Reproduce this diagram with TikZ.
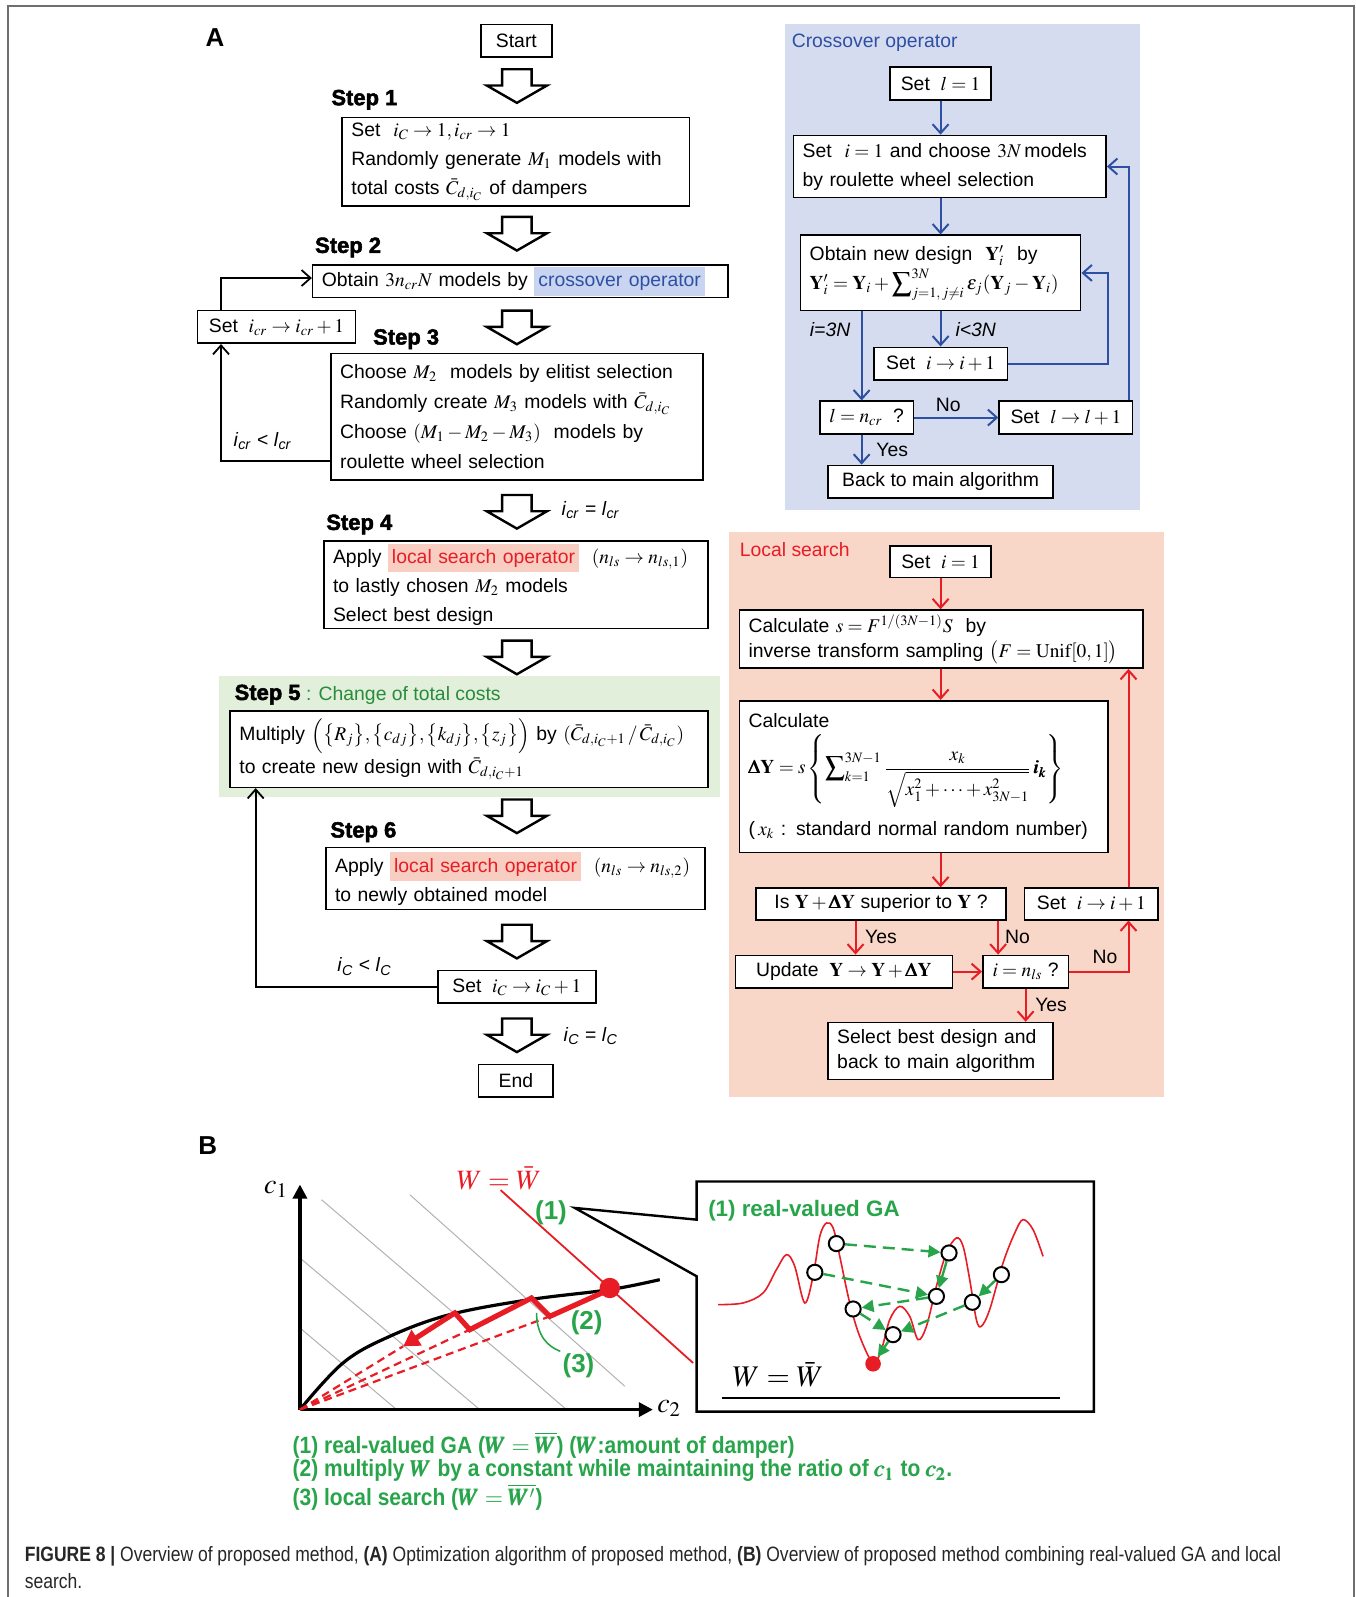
\documentclass[tikz,border=0pt]{standalone}
\usepackage{amsmath}
\usepackage{mathptmx}
\usepackage[no-math]{fontspec}
\setmainfont{Liberation Sans}
\newfontfamily\heavyfont[FakeBold=2.2]{Liberation Sans Bold}
\newfontfamily\legfont[FakeStretch=0.89]{Liberation Sans Bold}
\newfontfamily\capfont[FakeStretch=0.843,BoldFont={Liberation Sans Bold}]{Liberation Sans}
\usetikzlibrary{arrows.meta,calc}

\definecolor{cxbg}{RGB}{214,220,240}
\definecolor{cxblue}{RGB}{46,80,162}
\definecolor{cxhl}{RGB}{200,212,240}
\definecolor{lsbg}{RGB}{248,214,200}
\definecolor{lsred}{RGB}{232,28,36}
\definecolor{lshl}{RGB}{248,206,194}
\definecolor{s5bg}{RGB}{226,239,218}
\definecolor{s5green}{RGB}{40,140,60}
\definecolor{lgreen}{RGB}{40,165,75}
\definecolor{framegray}{RGB}{110,110,110}

\newcommand\bodyfont{\fontsize{9.7}{14.5}\selectfont}
\newcommand\hlB[1]{{\setlength{\fboxsep}{0pt}\colorbox{cxhl}{\strut\hspace{2pt}\color{cxblue}#1\hspace{2pt}}}}
\newcommand\hlR[1]{{\setlength{\fboxsep}{0pt}\colorbox{lshl}{\strut\hspace{2pt}\color{lsred}#1\hspace{2pt}}}}
\newcommand\itsub[2]{\textit{#1}\textsubscript{\textit{#2}}}
\newcommand\bDY{\pmb{\Delta}\mathbf{Y}}

\tikzset{
  box/.style={draw, line width=0.8pt, fill=white, inner xsep=4.6pt, inner ysep=0pt, font=\bodyfont, align=left},
  bx/.code 2 args={\pgfmathsetlengthmacro\bxw{#1*0.51pt-9.2pt}\pgfmathsetlengthmacro\bxh{#2*0.51pt}%
    \edef\bxtmp{\noexpand\pgfkeysalso{text width=\bxw,minimum height=\bxh}}\bxtmp},
  bxc/.code 2 args={\pgfmathsetlengthmacro\bxw{#1*0.51pt}\pgfmathsetlengthmacro\bxh{#2*0.51pt}%
    \edef\bxtmp{\noexpand\pgfkeysalso{minimum width=\bxw,minimum height=\bxh,inner xsep=0pt}}\bxtmp},
  txt/.style={inner sep=0pt, font=\bodyfont},
  steplbl/.style={inner sep=0pt, anchor=west, font=\heavyfont\fontsize{11}{12}\selectfont},
  arrK/.style={line width=0.9pt, -{Straight Barb[length=4.5pt,width=8pt]}},
  arrB/.style={cxblue, line width=1pt, -{Straight Barb[length=4.5pt,width=8pt]}},
  arrR/.style={lsred, line width=1pt, -{Straight Barb[length=4.5pt,width=8pt]}},
  harrow/.pic={\draw[line width=1.2pt, fill=white, line join=miter] (-14.5,0) -- (14.5,0) -- (14.5,16) -- (29.5,16) -- (0,33) -- (-29.5,16) -- (-14.5,16) -- cycle;},
  isoline/.style={gray!60, line width=0.5pt},
  gac/.style={circle, draw, fill=white, line width=1pt, minimum size=7.6pt, inner sep=0pt},
  garr/.style={lgreen, line width=1.2pt, -{Triangle[length=6pt,width=6pt]}},
  gdash/.style={dash pattern=on 6pt off 3.5pt},
  glab/.style={text=lgreen, font=\bfseries\fontsize{13}{15}\selectfont, inner sep=1pt},
  leg/.style={anchor=west, inner sep=0pt, text=lgreen, font=\legfont\fontsize{11.8}{13}\selectfont},
  capt/.style={anchor=west, inner sep=0pt, text=black!85, font=\capfont\fontsize{10.4}{12}\selectfont},
}

\begin{document}
\begin{tikzpicture}[x=0.51pt,y=-0.51pt]
\useasboundingbox (0,0) rectangle (1331,1568);
\fill[white] (0,0) rectangle (1331,1568);
\draw[framegray, line width=1pt] (8,1568) -- (8,6) -- (1329,6) -- (1329,1568);

% panels
\fill[cxbg] (771,24) rectangle (1119,501);
\fill[lsbg] (716,522) rectangle (1143,1077);
\fill[s5bg] (215,664) rectangle (707,783);

\node[inner sep=0pt, font=\bfseries\fontsize{13}{15}\selectfont] (labA) at (211,37) {A};

% ---------------- main flow ----------------
\node[box, bxc={70}{32}] (start) at (507,40) {Start};
\node[steplbl] (st1) at (325,98) {Step 1};
\node[box, bx={341}{87}] (step1) at (506.5,159) {Set\ \ $i_C\to 1, i_{cr}\to 1$\\Randomly generate $M_1$ models with\\total costs $\bar{C}_{d,i_C}$ of dampers};
\node[steplbl] (st2) at (309,243) {Step 2};
\node[box, bx={408}{32}] (step2) at (511,276) {\mbox{Obtain $3n_{cr}N$ models by \hlB{crossover operator}}};
\node[box, bxc={155}{32}] (seticr) at (271.5,321) {Set\ \ $i_{cr}\to i_{cr}+1$};
\node[steplbl] (st3) at (366,333) {Step 3};
\node[box, bx={365}{124}, font=\fontsize{9.7}{15}\selectfont] (step3) at (507.5,409) {Choose $M_2$\ \ models by elitist selection\\\mbox{Randomly create $M_3$ models with $\bar{C}_{d,i_C}$}\\Choose $(M_1-M_2-M_3)$\ \ models by\\roulette wheel selection};
\node[txt] (lcr1) at (258,433) {\itsub{i}{cr} < \itsub{l}{cr}};

\node[steplbl] (st4) at (320,515) {Step 4};
\node[txt] (lcr2) at (580,501) {\itsub{i}{cr} = \itsub{l}{cr}};
\node[box, bx={377}{86}] (step4) at (506.5,574) {\mbox{Apply \hlR{local search operator}\ \ $(n_{ls}\to n_{ls,1})$}\\to lastly chosen $M_2$ models\\Select best design};

\node[anchor=west, inner sep=0pt] (st5) at (230,682) {{\heavyfont\fontsize{11}{12}\selectfont Step 5} {\bodyfont\color{s5green}: Change of total costs}};
\node[box, bx={469}{75}, font=\fontsize{9.7}{16.5}\selectfont] (step5) at (460.5,735.5) {\mbox{Multiply $\Bigl(\bigl\{R_j\bigr\},\bigl\{c_{dj}\bigr\},\bigl\{k_{dj}\bigr\},\bigl\{z_j\bigr\}\Bigr)$ by $(\bar{C}_{d,i_C+1}\,/\,\bar{C}_{d,i_C})$}\\to create new design with $\bar{C}_{d,i_C+1}$};

\node[steplbl] (st6) at (324,817) {Step 6};
\node[box, bx={372}{61}] (step6) at (506,862.5) {\mbox{Apply \hlR{local search operator}\ \ $(n_{ls}\to n_{ls,2})$}\\to newly obtained model};
\node[box, bxc={155}{32}] (seticC) at (507.5,969) {Set\ \ $i_C\to i_C+1$};
\node[txt] (lc1) at (358,949) {\itsub{i}{C} < \itsub{l}{C}};
\node[txt] (lc2) at (580,1017) {\itsub{i}{C} = \itsub{l}{C}};
\node[box, bxc={73}{32}] (endn) at (506.5,1061) {End};

\foreach \yy in {68,213,305,486,629,785,908,1000} \pic at (507.5,\yy) {harrow};

\coordinate (s3out) at ($(step3.south west)+(0,-19)$);
\coordinate (lpin) at ($(seticr.south)+(-54.5,0)$);
\coordinate (lpout) at ($(seticr.north)+(-54.5,0)$);
\draw[arrK] (s3out) -| (lpin);
\draw[arrK] (lpout) |- ($(step2.west)+(0,-3)$);
\coordinate (s5in) at ($(step5.south)+(-209.5,0)$);
\draw[arrK] (seticC.west) -| (s5in);

% ---------------- crossover operator ----------------
\node[txt, anchor=west, text=cxblue] (cxt) at (777,42) {Crossover operator};
\node[box, bxc={99}{32}] (setl1) at (923.5,82) {Set\ \ $l=1$};
\node[box, bx={307}{61}] (seti1) at (932.5,163.5) {\mbox{Set\ \ $i=1$ and choose $3N$\,models}\\by roulette wheel selection};
\node[box, bx={275}{74}] (obtain) at (923.5,268) {Obtain new design\ \ $\mathbf{Y}_i'$\ \ by\\\mbox{$\mathbf{Y}_i'=\mathbf{Y}_i+\displaystyle\sum\nolimits_{j=1,\,j\neq i}^{3N}\varepsilon_j(\mathbf{Y}_j-\mathbf{Y}_i)$}};
\node[box, bxc={131}{32}] (setii) at (923.5,357) {Set\ \ $i\to i+1$};
\node[box, bxc={92}{32}] (lncr) at (851,410) {$l=n_{cr}$\ \ ?};
\node[box, bxc={131}{32}] (setll) at (1046.5,410) {Set\ \ $l\to l+1$};
\node[box, bxc={221}{32}] (back) at (923.5,473) {Back to main algorithm};

\draw[arrB] (setl1.south) -- (setl1.south |- seti1.north);
\draw[arrB] (setl1.south |- seti1.south) -- (setl1.south |- obtain.north);
\draw[arrB] (obtain.south) -- (setii.north);
\coordinate (lnx) at ($(lncr.north)+(-5,0)$);
\draw[arrB] (lnx |- obtain.south) -- (lnx);
\coordinate (lny) at ($(lncr.south)+(-5,0)$);
\draw[arrB] (lny) -- (lny |- back.north);
\coordinate (obr) at ($(obtain.east)+(26,0)$);
\draw[arrB] (setii.east) -| (obr) -- (obtain.east);
\draw[arrB] (lncr.east) -- (setll.west);
\coordinate (slt) at ($(setll.north)+(61.5,0)$);
\draw[arrB] (slt) |- (seti1.east);
\node[txt, font=\bodyfont\itshape] (l3n) at (815,324) {i=3N};
\node[txt, font=\bodyfont\itshape] (l3m) at (958,324) {i<3N};
\node[txt] (lno1) at (931,398) {No};
\node[txt] (lyes1) at (876,442) {Yes};

% ---------------- local search ----------------
\node[txt, anchor=west, text=lsred] (lst) at (726,540) {Local search};
\node[box, bxc={99}{31}] (lseti) at (923.5,551.5) {Set\ \ $i=1$};
\node[box, bx={396}{57}, font=\fontsize{9.7}{12.5}\selectfont] (calcs) at (924,627.5) {Calculate $s=F^{1/(3N-1)}S$\ \ by\\\mbox{inverse transform sampling $\bigl(F=\mathrm{Unif}[0,1]\bigr)$}};
\node[box, bx={362}{149}] (calcdy) at (907,762.5) {Calculate\\[2pt]\mbox{$\bDY=s\left\{\displaystyle\sum\nolimits_{k=1}^{3N-1}\frac{x_k}{\sqrt{x_1^2+\cdots+x_{3N-1}^2}}\,\pmb{i}_{\pmb{k}}\right\}$}\\[6pt]\mbox{(\,$x_k$ : standard normal random number)}};
\node[box, bxc={246}{31}] (isy) at (865,887.5) {Is $\mathbf{Y}+\bDY$ superior to $\mathbf{Y}$ ?};
\node[box, bxc={131}{31}] (lsetii) at (1071.5,887.5) {Set\ \ $i\to i+1$};
\node[box, bxc={213}{32}] (update) at (828.5,954) {Update\ \ $\mathbf{Y}\to\mathbf{Y}+\bDY$};
\node[box, bxc={84}{32}] (inls) at (1007,954) {$i=n_{ls}$\ ?};
\node[box, bx={221}{56}, font=\fontsize{9.7}{12.4}\selectfont] (select) at (923.5,1032) {Select best design and\\back to main algorithm};

\draw[arrR] (lseti.south) -- (lseti.south |- calcs.north);
\draw[arrR] (lseti.south |- calcs.south) -- (lseti.south |- calcdy.north);
\draw[arrR] (lseti.south |- calcdy.south) -- (lseti.south |- isy.north);
\coordinate (yx) at ($(update.north)+(11.5,0)$);
\draw[arrR] (yx |- isy.south) -- (yx);
\coordinate (nx) at ($(inls.north)+(-27,0)$);
\draw[arrR] (nx |- isy.south) -- (nx);
\draw[arrR] (update.east) -- (inls.west);
\coordinate (srx) at ($(lsetii.south)+(36.5,0)$);
\draw[arrR] (inls.east) -| (srx);
\coordinate (srt) at ($(lsetii.north)+(36.5,0)$);
\draw[arrR] (srt) -- (srt |- calcs.south);
\draw[arrR] (inls.south) -- (inls.south |- select.north);
\node[txt] (lyes2) at (865,920) {Yes};
\node[txt] (lno2) at (999,920) {No};
\node[txt] (lno3) at (1085,940) {No};
\node[txt] (lyes3) at (1032,987) {Yes};

% ---------------- part B ----------------
\node[inner sep=0pt, font=\bfseries\fontsize{13}{15}\selectfont] (labB) at (204,1125) {B};
\coordinate (O) at (294.5,1384);
\coordinate (ytop) at (294.5,1163);
\coordinate (xend) at (641,1384);
\draw[isoline] (294.5,1303.8) -- (389.4,1384);
\draw[isoline] (294.5,1235.1) -- (471.1,1384);
\draw[isoline] (315.7,1177.9) -- (556.2,1384);
\draw[isoline] (402.4,1173.0) -- (613.5,1361.1);
\draw[line width=1.6pt, -{Triangle[length=7pt,width=7pt]}] (O) -- (ytop);
\draw[line width=1.6pt, -{Triangle[length=7pt,width=7pt]}] (O) -- (xend);
\node[inner sep=0pt, font=\fontsize{14}{15}\selectfont] (c1lab) at (271,1168) {$c_1$};
\node[inner sep=0pt, font=\fontsize{14}{15}\selectfont] (c2lab) at (657,1383) {$c_2$};
\draw[lsred, line width=0.9pt] (491.5,1168.5) -- (680.5,1338.2);
\node[inner sep=0pt, text=lsred, font=\fontsize{14}{15}\selectfont] (wred) at (490,1157) {$W=\bar{W}$};
\draw[line width=1.6pt] plot[smooth, tension=0.6] coordinates {(294.5,1384) (337,1338) (382.8,1312) (441.7,1290.7) (520.2,1276) (598.7,1266.2) (647.8,1256.4)};
\draw[lsred, line width=1.1pt, dash pattern=on 4pt off 2.5pt] (O) -- (395.9,1321.8);
\draw[lsred, line width=1.1pt, dash pattern=on 4pt off 2.5pt] (O) -- (461.3,1305.5);
\draw[lsred, line width=1.1pt, dash pattern=on 4pt off 2.5pt] (O) -- (539.9,1292.4);
\draw[lsred, line width=2.6pt, line join=miter, -{Triangle[length=8pt,width=9pt]}] (598.7,1266) -- (539.9,1292.4) -- (521.9,1274.4) -- (461.3,1305.5) -- (446.6,1289.1) -- (395.9,1321.8);
\node[circle, fill=lsred, minimum size=10.2pt, inner sep=0pt] (opt) at (598.7,1264.6) {};
\node[glab] (g1lab) at (541,1191) {(1)};
\node[glab] (g2lab) at (576,1299) {(2)};
\node[glab] (g3lab) at (568,1341) {(3)};
\coordinate (g3from) at (526.8,1289);
\draw[lgreen, line width=0.8pt] (g3from) .. controls (527,1312) and (538,1322) .. (g3lab.north west);

% callout box
\draw[line width=1.2pt, line join=miter] (684,1197.5) -- (564.4,1186) -- (684,1253.1) -- (684,1386) -- (1074,1386) -- (1074,1160) -- (684,1160) -- cycle;
\node[anchor=west, inner sep=0pt, text=lgreen, font=\bfseries\fontsize{11.2}{13}\selectfont] (gat) at (695,1189) {(1) real-valued GA};
\draw[lsred, line width=0.8pt] plot[smooth, tension=0.55] coordinates {(705.1,1280.9) (729.6,1279.3) (749.2,1269.5) (762.3,1246.6) (772.2,1231.8) (780.3,1243.3) (790.1,1279.3) (798.3,1253.1) (804.9,1213.9) (811.4,1200.8) (818.0,1205.7) (824.5,1233.5) (834.3,1279.3) (844.1,1312.0) (857.2,1338.2) (865.4,1325.1) (873.6,1295.6) (883.4,1282.6) (893.2,1292.4) (901.4,1315.3) (909.6,1302.2) (919.4,1262.9) (929.2,1230.2) (939.0,1215.5) (945.6,1223.7) (952.1,1256.4) (958.6,1295.6) (963.5,1302.2) (971.7,1285.8) (984.8,1240.0) (996.3,1210.6) (1004.4,1197.5) (1014.3,1207.3) (1024.1,1233.5)};
\node[gac] (g1) at (821.2,1221.0) {};
\node[gac] (g2) at (800.0,1249.2) {};
\node[gac] (g3) at (931.8,1230.2) {};
\node[gac] (g4) at (919.4,1272.8) {};
\node[gac] (g5) at (837.6,1285.2) {};
\node[gac] (g6) at (876.8,1310.4) {};
\node[gac] (g7) at (954.7,1278.6) {};
\node[gac] (g8) at (983.2,1251.5) {};
\node[circle, fill=lsred, minimum size=7.8pt, inner sep=0pt] (gbest) at (857.2,1339) {};
\draw[garr, gdash] (g1) -- (g3);
\draw[garr, gdash] (g2) -- (g4);
\draw[garr] (g3) -- (g4);
\draw[garr, gdash] (g4) -- (g5);
\draw[garr, gdash] (g5) -- (g6);
\draw[garr, gdash] (g7) -- (g6);
\draw[garr] (g8) -- (g7);
\draw[garr] (g6) -- (gbest);
\node[inner sep=0pt, font=\fontsize{15}{16}\selectfont] (wblk) at (764,1350) {$W=\bar{W}$};
\draw[line width=1.3pt] (708.4,1372.5) -- (1040.4,1372.5);

% legend
\node[leg] (lg1) at (287,1419) {(1) real-valued GA ($\pmb{W}=\overline{\pmb{W}}$) ($\pmb{W}$:amount of damper)};
\node[leg] (lg2) at (287,1444) {(2) multiply $\pmb{W}$ by a constant while maintaining the ratio of $\pmb{c_1}$ to $\pmb{c_2}$.};
\node[leg] (lg3) at (287,1470) {(3) local search ($\pmb{W}=\overline{\pmb{W}'}$)};

% caption
\node[capt] (cap1) at (24,1528) {\textbf{FIGURE 8} \textbf{|} Overview of proposed method, \textbf{(A)} Optimization algorithm of proposed method, \textbf{(B)} Overview of proposed method combining real-valued GA and local};
\node[capt] (cap2) at (24,1552) {search.};
\end{tikzpicture}
\end{document}
